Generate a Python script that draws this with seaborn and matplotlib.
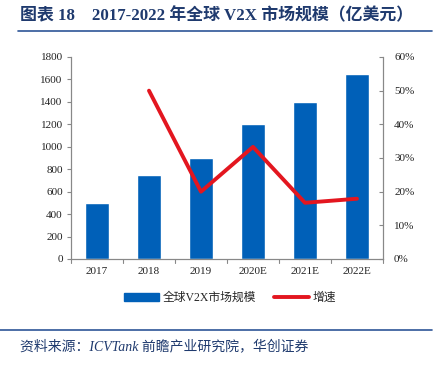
import matplotlib
matplotlib.use("Agg")
import matplotlib.pyplot as plt
import seaborn as sns
import pandas as pd
from matplotlib.lines import Line2D
from matplotlib.patches import Patch

years = ["2017", "2018", "2019", "2020E", "2021E", "2022E"]
market = [500, 750, 900, 1200, 1400, 1650]
growth = [None, 50.0, 20.0, 33.3, 16.7, 17.9]
left_ticks = [0, 200, 400, 600, 800, 1000, 1200, 1400, 1600, 1800]
right_ticks = [0, 10, 20, 30, 40, 50, 60]

sns.set_theme(style="white")
plt.rcParams['font.family'] = ['Liberation Serif', 'Noto Sans CJK SC', 'DejaVu Sans']

BLUE = "#0060B8"
RED = "#E3161F"
AXC = "#888888"
TXT = "#222222"

df = pd.DataFrame({"year": years, "market": market, "growth": growth})

fig = plt.figure(figsize=(4.4, 3.65), dpi=100)
ax = fig.add_axes([71/440, 1-259/365, 312/440, 202/365])

sns.barplot(data=df, x="year", y="market", color=BLUE, width=0.45, ax=ax, saturation=1)
ax.set_ylim(0, 1800)
ax.set_yticks(left_ticks)
ax.set_xlim(-0.5, 5.5)
ax.set_xlabel("")
ax.set_ylabel("")
ax.set_xticks(range(6))
ax.set_xticklabels(years)
ax.tick_params(axis='x', length=0, labelsize=8, colors=TXT, pad=6)
ax.tick_params(axis='y', length=3, width=0.8, color=AXC, labelsize=8, labelcolor=TXT, direction='out', pad=3, left=True)
for x in [i + 0.5 for i in range(-1, 6)]:
    ax.plot([x, x], [0, -0.02], transform=ax.get_xaxis_transform(), color=AXC, lw=0.8, clip_on=False)
ax.spines['top'].set_visible(False)
for s in ['left', 'right', 'bottom']:
    ax.spines[s].set_color(AXC)
    ax.spines[s].set_linewidth(0.8)

ax2 = ax.twinx()
sns.lineplot(data=df.dropna(), x="year", y="growth", color=RED, lw=2.8, ax=ax2, sort=False)
ax2.set_ylim(0, 60)
ax2.set_yticks(right_ticks)
ax2.set_yticklabels([f"{t}%" for t in right_ticks])
ax2.set_xlim(-0.5, 5.5)
ax2.set_ylabel("")
ax2.set_xlabel("")
ax2.tick_params(axis='y', length=3, width=0.8, color=AXC, labelsize=8, labelcolor=TXT, direction='in', pad=8, right=True)
ax2.spines['top'].set_visible(False)
for s in ['left', 'right', 'bottom']:
    ax2.spines[s].set_color(AXC)
    ax2.spines[s].set_linewidth(0.8)

handles = [Patch(facecolor=BLUE, edgecolor=BLUE), Line2D([0], [0], color=RED, lw=2.8)]
fig.legend(handles, ["全球V2X市场规模", "增速"], loc='center', bbox_to_anchor=(230/440, 1-298/365),
           ncol=2, frameon=False, handlelength=3.0, handleheight=0.7, handletextpad=0.3, columnspacing=1.5,
           prop={'family': ['Liberation Serif', 'Noto Sans CJK SC'], 'size': 8.5})

TITLE = "#1F3A6E"
fig.text(20/440, 1-16/365, "图表 18    2017-2022 年全球 V2X 市场规模（亿美元）", fontsize=12.2, fontweight='bold',
         color=TITLE, va='center', ha='left')
fig.add_artist(Line2D([18/440, 432/440], [1-31/365, 1-31/365], color="#2E5597", lw=1.2))
fig.add_artist(Line2D([0, 432/440], [1-330/365, 1-330/365], color="#2E5597", lw=1.2))
fig.text(20/440, 1-346/365, "资料来源：ICVTank 前瞻产业研究院，华创证券", fontsize=10, style='italic',
         color="#1F3A6E", va='center', ha='left')

fig.savefig("out.png", dpi=100)
